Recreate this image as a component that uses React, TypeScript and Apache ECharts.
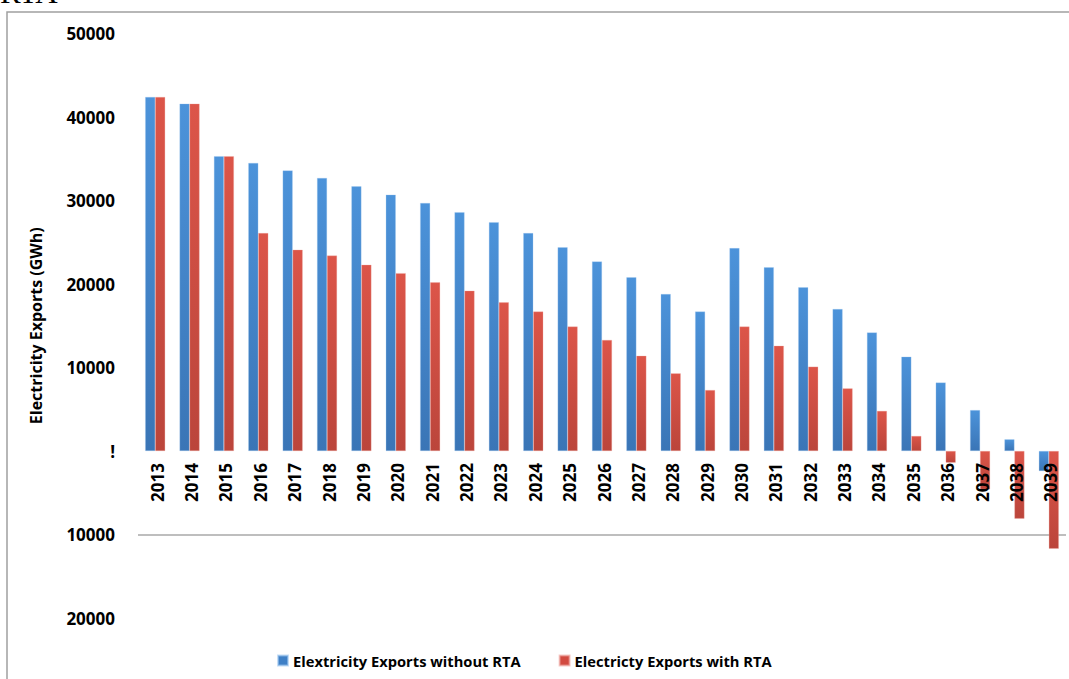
import React, { useEffect, useRef } from "react";
import * as echarts from "echarts";

const years = [
  "2013", "2014", "2015", "2016", "2017", "2018", "2019", "2020", "2021",
  "2022", "2023", "2024", "2025", "2026", "2027", "2028", "2029", "2030",
  "2031", "2032", "2033", "2034", "2035", "2036", "2037", "2038", "2039",
];
const withoutRTA = [
  42400, 41600, 35300, 34500, 33600, 32700, 31700, 30700, 29700, 28600,
  27400, 26100, 24400, 22700, 20800, 18800, 16700, 24300, 22000, 19600,
  17000, 14200, 11300, 8200, 4900, 1400, -2400,
];
const withRTA = [
  42400, 41600, 35300, 26100, 24100, 23400, 22300, 21300, 20200, 19200,
  17800, 16700, 14900, 13300, 11400, 9300, 7300, 14900, 12600, 10100,
  7500, 4800, 1800, -1400, -4600, -8100, -11700,
];
const seriesNames = ["Elextricity Exports without RTA", "Electricty Exports with RTA"];
const yName = "Electricity Exports (GWh)";
const titleText = "RTA";

const FONT = "'Open Sans', 'Noto Sans', sans-serif";

export default function App() {
  const ref = useRef<HTMLDivElement>(null);
  useEffect(() => {
    if (!ref.current) return;
    const chart = echarts.init(ref.current, null, { renderer: "svg" });
    const blueGrad = new echarts.graphic.LinearGradient(0, 0, 0, 1, [
      { offset: 0, color: "#4c93da" },
      { offset: 1, color: "#3a75b6" },
    ]);
    const redGrad = new echarts.graphic.LinearGradient(0, 0, 0, 1, [
      { offset: 0, color: "#dc5549" },
      { offset: 1, color: "#bb453b" },
    ]);
    const splitColors = ["transparent", "#a8a8a8", "transparent", "transparent", "transparent", "transparent", "transparent", "transparent"];
    chart.setOption({
      animation: false,
      backgroundColor: "#ffffff",
      textStyle: { fontFamily: FONT },
      graphic: [
        {
          type: "rect",
          shape: { x: 7, y: 12, width: 1100, height: 700 },
          style: { fill: "none", stroke: "#a0a0a0", lineWidth: 1.5 },
          z: -1,
        },
        {
          type: "text",
          x: 0,
          y: -8,
          style: {
            text: titleText,
            fontSize: 31,
            fontFamily: "'Liberation Serif', 'DejaVu Serif', serif",
            fill: "#000",
            verticalAlign: "middle",
          },
        },
      ],
      legend: {
        left: 272,
        top: 648,
        itemWidth: 10,
        itemHeight: 10,
        itemGap: 38,
        icon: "rect",
        textStyle: { fontFamily: FONT, fontWeight: "bold", fontSize: 14.7, color: "#000" },
        data: [
          { name: seriesNames[0], itemStyle: { color: "#3f80c6" } },
          { name: seriesNames[1], itemStyle: { color: "#d24a40" } },
        ],
      },
      grid: { left: 138, top: 33.5, width: 928, height: 584.5, containLabel: false },
      xAxis: {
        type: "category",
        data: years,
        axisLine: { show: false },
        axisTick: { show: false },
        axisLabel: { show: false },
      },
      yAxis: {
        type: "value",
        min: -20000,
        max: 50000,
        interval: 10000,
        name: yName,
        nameLocation: "middle",
        nameRotate: 90,
        nameGap: 94,
        nameTextStyle: { fontFamily: FONT, fontWeight: "bold", fontSize: 16, color: "#000" },
        axisLine: { show: false },
        axisTick: { show: false },
        axisLabel: {
          margin: 23,
          fontFamily: FONT,
          fontWeight: "bold",
          fontSize: 17,
          color: "#000",
          formatter: (v: number) => (v === 0 ? "!" : String(Math.abs(v))),
        },
        splitLine: { show: true, lineStyle: { color: splitColors, width: 1.5 } },
      },
      series: [
        {
          name: seriesNames[0],
          type: "bar",
          data: withoutRTA,
          barWidth: 10,
          barGap: "0%",
          itemStyle: { color: blueGrad, borderColor: "rgba(160,200,240,0.6)", borderWidth: 0.5 },
        },
        {
          name: seriesNames[1],
          type: "bar",
          data: withRTA,
          barWidth: 10,
          barGap: "0%",
          itemStyle: { color: redGrad, borderColor: "rgba(240,170,165,0.6)", borderWidth: 0.5 },
        },
        {
          name: "yearLabels",
          type: "custom",
          clip: false,
          silent: true,
          z: 5,
          data: years.map((y, i) => [i, 0]),
          renderItem: (params: any, api: any) => {
            const idx = api.value(0);
            const p = api.coord([idx, 0]);
            return {
              type: "text",
              x: p[0] + 2,
              y: p[1] + 12,
              rotation: Math.PI / 2,
              style: {
                text: years[idx],
                align: "right",
                verticalAlign: "middle",
                fontFamily: FONT,
                fontWeight: "bold",
                fontSize: 17,
                fill: "#000",
              },
            };
          },
        },
      ],
    });
    return () => chart.dispose();
  }, []);
  return (
    <div
      ref={ref}
      style={{ position: "fixed", left: 0, top: 0, width: 1069, height: 679 }}
    />
  );
}
